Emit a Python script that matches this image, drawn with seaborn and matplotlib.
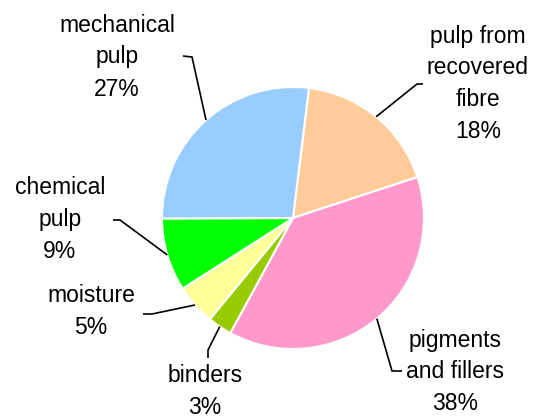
import numpy as np
import matplotlib
matplotlib.use('Agg')
import matplotlib.pyplot as plt
import seaborn as sns

# Datos (composición del papel, %)
categories = ['pulp from\nrecovered\nfibre', 'pigments\nand fillers', 'binders',
              'moisture', 'chemical\npulp', 'mechanical\npulp']
values = [18, 38, 3, 5, 9, 27]
colors = ['#FFCC99', '#FF99CC', '#99CC00', '#FFFF99', '#00FF00', '#99CCFF']

sns.set_theme(style='white')
plt.rcParams['font.family'] = ['Liberation Sans', 'DejaVu Sans']

W, H = 534, 419
fig = plt.figure(figsize=(W / 100, H / 100), dpi=100)
ax = fig.add_axes([0, 0, 1, 1])

cx, cy, r = 293, H - 218, 131
wedges, _ = ax.pie(values, colors=colors, startangle=83, counterclock=False,
                   center=(cx, cy), radius=r,
                   wedgeprops=dict(edgecolor='white', linewidth=1.5))
ax.set_xlim(0, W)
ax.set_ylim(0, H)
ax.set_aspect('equal')
ax.axis('off')

# posiciones de etiquetas en pixeles: (texto, codo, final del trazo corto)
layout = [
    ((478, 84), (417, 84), (423, 84)),
    ((455, 372), (392, 371), (402, 371)),
    ((205, 391), (208, 350), (208, 358)),
    ((91, 312), (152, 314), (143, 314)),
    ((60, 220), (120, 220), (113, 220)),
    ((117, 57), (192, 57), (183, 56)),
]

for w, name, val, (tpos, elbow, tick) in zip(wedges, categories, values, layout):
    ang = np.deg2rad((w.theta1 + w.theta2) / 2)
    ex, ey = cx + r * np.cos(ang), cy + r * np.sin(ang)
    ax.plot([ex, elbow[0], tick[0]], [ey, H - elbow[1], H - tick[1]],
            color='black', lw=1.2, solid_capstyle='butt')
    ax.text(tpos[0], H - tpos[1], f'{name}\n{val}%', ha='center', va='center',
            fontsize=16.5, linespacing=1.5, color='black')

plt.savefig('out.png', dpi=100)
